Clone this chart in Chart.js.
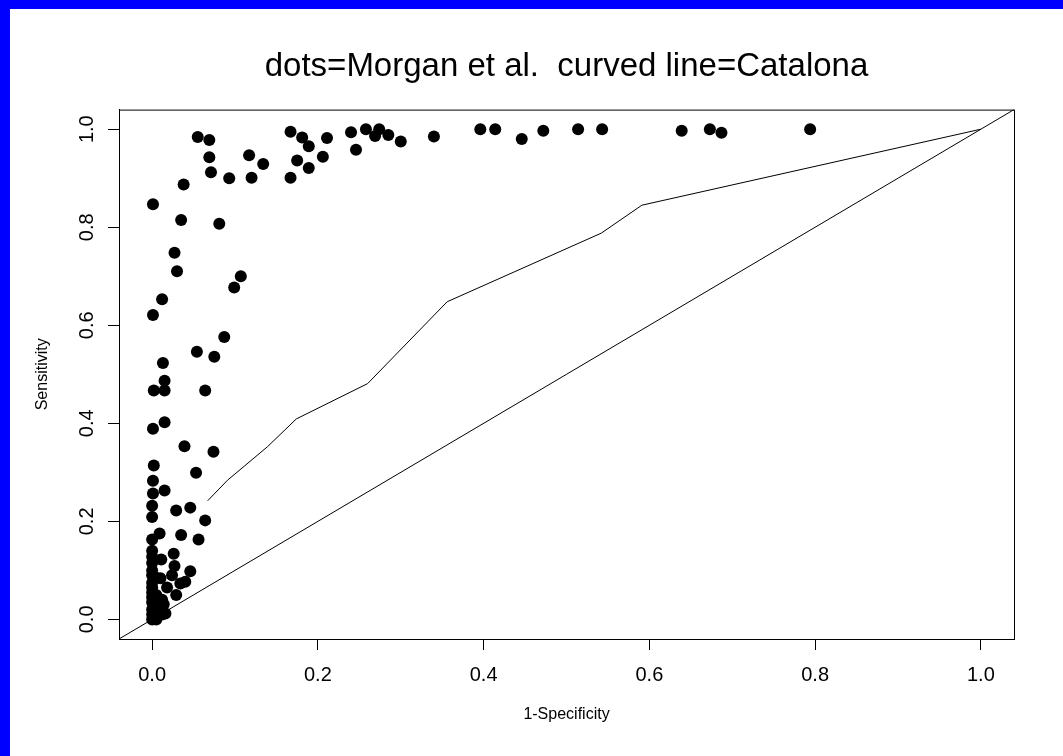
<!DOCTYPE html>
<html>
<head>
<meta charset="utf-8">
<title>ROC: Morgan et al. vs Catalona</title>
<script src="https://cdn.jsdelivr.net/npm/chart.js@4.4.1/dist/chart.umd.min.js"></script>
<style>
  html, body { margin: 0; padding: 0; background: #0000ff; width: 1063px; height: 756px; overflow: hidden; }
  #wrap { position: absolute; left: 10px; top: 9px; width: 1053px; height: 747px; background: #ffffff; }
  canvas { display: block; }
</style>
</head>
<body>
<div id="wrap"><canvas id="rocChart" width="1053" height="747"></canvas></div>
<script>
// Morgan et al. study points (1-specificity, sensitivity)
const morganFpr = [
  0.055, 0.069, 0.069, 0.071, 0.093, 0.120, 0.117, 0.134, 0.167, 0.175, 0.167,
  0.038, 0.001, 0.035, 0.081, 0.027, 0.030, 0.107, 0.099, 0.012, 0.001,
  0.087, 0.054, 0.075, 0.013, 0.015, 0.002, 0.015, 0.064, 0.015, 0.001,
  0.039, 0.074, 0.002, 0.053, 0.001, 0.001, 0.015, 0.000, 0.000, 0.029,
  0.046, 0.064, 0.000, 0.009, 0.035, 0.056, 0.026, 0.000, 0.011, 0.027,
  0.046, 0.024, 0.040, 0.034, 0.018, 0.029, 0.010, 0.014, 0.016, 0.004,
  0.000, 0.000, 0.000, 0.000, 0.000, 0.000, 0.000, 0.000, 0.000, 0.000,
  0.000, 0.000, 0.005, 0.005, 0.005, 0.005, 0.012, 0.012, 0.012,
  0.181, 0.189, 0.189, 0.211, 0.206, 0.240, 0.246, 0.258, 0.274, 0.269,
  0.285, 0.300, 0.340, 0.396, 0.414, 0.446, 0.472, 0.514, 0.543, 0.639,
  0.673, 0.687, 0.794
];
const morganSens = [
  0.984, 0.978, 0.943, 0.912, 0.900, 0.901, 0.947, 0.929, 0.995, 0.936, 0.901,
  0.887, 0.847, 0.815, 0.807, 0.748, 0.710, 0.700, 0.677, 0.653, 0.621,
  0.576, 0.546, 0.536, 0.523, 0.487, 0.467, 0.467, 0.467, 0.402, 0.389,
  0.353, 0.342, 0.314, 0.299, 0.283, 0.257, 0.263, 0.232, 0.209, 0.222,
  0.228, 0.202, 0.163, 0.175, 0.172, 0.163, 0.134, 0.128, 0.122, 0.109,
  0.098, 0.090, 0.077, 0.073, 0.065, 0.050, 0.084, 0.031, 0.012, 0.002,
  0.140, 0.115, 0.100, 0.090, 0.075, 0.065, 0.055, 0.045, 0.035, 0.020,
  0.010, 0.000, 0.085, 0.050, 0.025, 0.000, 0.040, 0.020, 0.010,
  0.983, 0.965, 0.921, 0.982, 0.944, 0.994, 0.958, 1.000, 1.000, 0.986,
  0.988, 0.975, 0.985, 1.000, 1.000, 0.980, 0.997, 1.000, 1.000, 0.997,
  1.000, 0.993, 1.000
];

// Catalona curve (1-specificity, sensitivity)
const catalonaFpr = [0.067, 0.091, 0.139, 0.174, 0.260, 0.356, 0.542, 0.591, 1.0];
const catalonaSens = [0.242, 0.284, 0.352, 0.409, 0.481, 0.648, 0.788, 0.845, 1.0];

// reference diagonal y = x, across the whole plot region
const diagonal = [-0.04, 1.04];

const axisTicks = [0, 0.2, 0.4, 0.6, 0.8, 1.0];
const axisMin = -0.04;
const axisMax = 1.04;

const toPoints = (xs, ys) => xs.map((x, i) => ({ x: x, y: ys[i] }));

const plotBox = {
  id: 'plotBox',
  afterDraw(chart) {
    const { ctx, chartArea } = chart;
    ctx.save();
    ctx.strokeStyle = '#000';
    ctx.lineWidth = 1;
    ctx.strokeRect(chartArea.left + 0.5, chartArea.top + 0.5,
      chartArea.right - chartArea.left, chartArea.bottom - chartArea.top);
    ctx.restore();
  }
};

const tickFont = { family: '"Liberation Sans", Arial, Helvetica, sans-serif', size: 20 };
const labelFont = { family: '"Liberation Sans", Arial, Helvetica, sans-serif', size: 16 };

const ctx = document.getElementById('rocChart').getContext('2d');

new Chart(ctx, {
  type: 'scatter',
  data: {
    datasets: [
      {
        label: 'Morgan et al.',
        data: toPoints(morganFpr, morganSens),
        pointRadius: 6,
        pointHoverRadius: 6,
        backgroundColor: '#000',
        borderColor: '#000',
        borderWidth: 0,
        showLine: false
      },
      {
        label: 'Catalona',
        data: toPoints(catalonaFpr, catalonaSens),
        showLine: true,
        pointRadius: 0,
        borderColor: '#000',
        borderWidth: 1,
        tension: 0
      },
      {
        label: 'diagonal',
        data: toPoints(diagonal, diagonal),
        showLine: true,
        pointRadius: 0,
        borderColor: '#000',
        borderWidth: 1
      }
    ]
  },
  options: {
    responsive: false,
    animation: false,
    layout: { padding: { left: 0, right: 49, top: 0, bottom: 0 } },
    plugins: {
      legend: { display: false },
      tooltip: { enabled: false },
      title: {
        display: true,
        text: 'dots=Morgan et al.  curved line=Catalona',
        fullSize: false,
        color: '#000',
        font: { family: '"Liberation Sans", Arial, Helvetica, sans-serif', size: 33, weight: 'normal' },
        padding: { top: 38, bottom: 23 }
      }
    },
    scales: {
      x: {
        type: 'linear',
        min: axisMin,
        max: axisMax,
        afterBuildTicks: axis => { axis.ticks = axisTicks.map(v => ({ value: v })); },
        afterFit: axis => { axis.height = 117; },
        grid: { display: true, drawOnChartArea: false, drawTicks: true, tickLength: 11, tickColor: '#000' },
        border: { display: true, color: '#000', width: 1 },
        ticks: {
          color: '#000',
          font: tickFont,
          padding: 13,
          maxRotation: 0,
          callback: v => v.toFixed(1)
        },
        title: {
          display: true,
          text: '1-Specificity',
          color: '#000',
          font: labelFont,
          padding: { top: 0, bottom: 32 }
        }
      },
      y: {
        type: 'linear',
        min: axisMin,
        max: axisMax,
        afterBuildTicks: axis => { axis.ticks = axisTicks.map(v => ({ value: v })); },
        afterFit: axis => { axis.width = 109; },
        grid: { display: true, drawOnChartArea: false, drawTicks: true, tickLength: 11, tickColor: '#000' },
        border: { display: true, color: '#000', width: 1 },
        ticks: {
          color: '#000',
          font: tickFont,
          padding: 7,
          minRotation: 90,
          maxRotation: 90,
          crossAlign: 'center',
          callback: v => v.toFixed(1)
        },
        title: {
          display: true,
          text: 'Sensitivity',
          color: '#000',
          font: labelFont,
          padding: { top: 23, bottom: 0 }
        }
      }
    }
  },
  plugins: [plotBox]
});
</script>
</body>
</html>
